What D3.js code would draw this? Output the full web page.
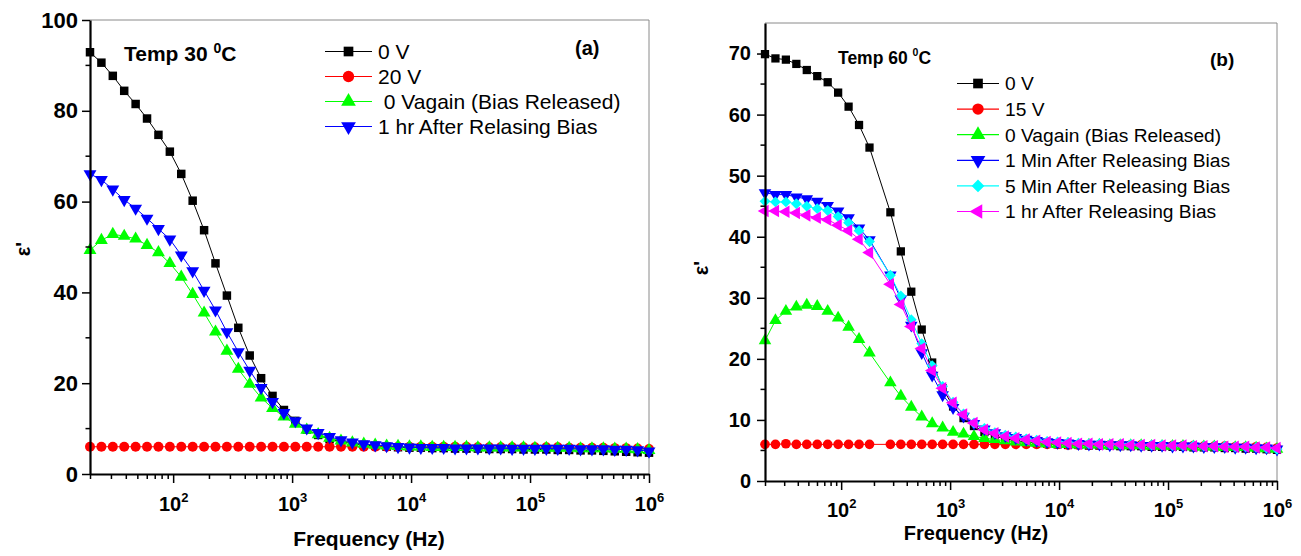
<!DOCTYPE html>
<html>
<head>
<meta charset="utf-8">
<script src="https://cdn.jsdelivr.net/npm/d3@7"></script>
<style>
  body { margin: 0; background: #fff; }
  svg { display: block; font-family: "Liberation Sans", Arial, sans-serif; }
</style>
</head>
<body>
<div id="chart"></div>
<script>
// measuring frequencies (Hz), shared by both panels
const freq = [20, 24.94, 31.10, 38.78, 48.37, 60.32, 75.22, 93.81, 117.0, 145.9,
  182.0, 226.9, 283.0, 352.9, 440.1, 548.9, 684.5, 853.6, 1064.6, 1327.6,
  1655.7, 2064.8, 2575, 3211, 4005, 4994, 6228, 7767, 9686, 12080,
  15065, 18787, 23429, 29218, 36437, 45441, 56668, 70670, 88132, 109907,
  137063, 170928, 213161, 265831, 331513, 413424, 515576, 642966, 801838, 1000000];

// panel (a) : 30 C
const a_0V = [92.9, 90.6, 87.7, 84.4, 81.5, 78.3, 74.7, 71.0, 66.1, 60.2,
  53.7, 46.4, 39.3, 32.2, 26.1, 21.1, 17.2, 14.1, 11.7, 9.8,
  8.6, 7.7, 7.1, 6.7, 6.4, 6.2, 6.0, 5.9, 5.8, 5.8,
  5.7, 5.7, 5.6, 5.6, 5.6, 5.5, 5.5, 5.5, 5.4, 5.4,
  5.4, 5.3, 5.3, 5.2, 5.2, 5.1, 5.0, 4.9, 4.8, 4.7];
const a_20V = [6.0, 6.0, 6.0, 6.0, 6.0, 6.0, 6.0, 6.0, 6.0, 6.0,
  6.0, 6.0, 6.0, 6.0, 6.0, 6.0, 6.0, 6.0, 6.0, 6.0,
  6.0, 6.0, 6.0, 6.0, 6.0, 6.0, 6.0, 6.0, 6.0, 6.0,
  6.0, 6.0, 6.0, 6.0, 5.9, 5.9, 5.9, 5.9, 5.9, 5.9,
  5.9, 5.9, 5.8, 5.8, 5.8, 5.8, 5.7, 5.7, 5.6, 5.5];
const a_0Vagain = [49.3, 51.5, 52.8, 52.4, 51.8, 50.4, 48.8, 46.4, 43.4, 39.6,
  35.5, 31.3, 27.1, 23.1, 19.8, 16.8, 14.5, 12.6, 11.0, 9.7,
  8.7, 7.9, 7.3, 6.9, 6.6, 6.4, 6.2, 6.1, 6.0, 6.0,
  5.9, 5.9, 5.9, 5.9, 5.8, 5.8, 5.8, 5.8, 5.8, 5.7,
  5.7, 5.7, 5.7, 5.6, 5.6, 5.6, 5.5, 5.5, 5.4, 5.2];
const a_1hr = [66.1, 64.8, 62.7, 60.4, 58.5, 56.3, 54.0, 51.7, 48.2, 44.7,
  40.4, 36.1, 31.3, 26.9, 22.8, 19.0, 15.9, 13.5, 11.7, 10.1,
  9.1, 8.2, 7.5, 7.0, 6.6, 6.4, 6.2, 6.0, 5.9, 5.8,
  5.8, 5.8, 5.7, 5.7, 5.7, 5.7, 5.7, 5.6, 5.6, 5.6,
  5.6, 5.6, 5.6, 5.5, 5.5, 5.5, 5.4, 5.4, 5.3, 5.0];

// panel (b) : 60 C  (no reading at the 12th frequency)
const b_0V = [69.9, 69.2, 69.0, 68.3, 67.3, 66.3, 65.3, 63.6, 61.3, 58.3,
  54.6, null, 44.0, 37.6, 31.0, 24.8, 19.4, 15.2, 12.2, 10.3,
  9.0, 8.0, 7.3, 6.9, 6.6, 6.4, 6.2, 6.1, 6.0, 5.9,
  5.9, 5.8, 5.8, 5.8, 5.7, 5.7, 5.7, 5.6, 5.6, 5.6,
  5.6, 5.5, 5.5, 5.5, 5.4, 5.4, 5.3, 5.3, 5.2, 5.1];
const b_15V = [6.0, 6.0, 6.1, 6.0, 6.0, 6.0, 6.0, 6.0, 6.0, 6.0,
  6.0, null, 6.0, 6.0, 6.0, 6.0, 6.0, 6.0, 6.0, 6.0,
  6.0, 6.0, 6.0, 6.0, 6.0, 6.0, 6.0, 6.0, 6.0, 5.9,
  5.9, 5.9, 5.9, 5.9, 5.9, 5.9, 5.9, 5.8, 5.8, 5.8,
  5.8, 5.8, 5.7, 5.7, 5.7, 5.6, 5.6, 5.6, 5.5, 5.4];
const b_0Vagain = [23.0, 26.3, 27.8, 28.5, 28.8, 28.6, 27.8, 26.7, 25.2, 23.2,
  21.0, null, 16.1, 13.9, 12.1, 10.5, 9.4, 8.7, 8.0, 7.7,
  7.3, 7.0, 6.8, 6.6, 6.4, 6.3, 6.2, 6.1, 6.0, 6.0,
  5.9, 5.9, 5.9, 5.8, 5.8, 5.8, 5.8, 5.7, 5.7, 5.7,
  5.7, 5.6, 5.6, 5.6, 5.5, 5.5, 5.5, 5.4, 5.3, 5.2];
const b_1min = [47.2, 46.9, 46.9, 46.5, 46.2, 45.8, 45.1, 44.2, 43.1, 41.4,
  39.5, null, 33.7, 29.8, 25.5, 21.0, 17.3, 14.1, 12.0, 10.6,
  9.4, 8.5, 7.9, 7.4, 7.1, 6.8, 6.6, 6.4, 6.3, 6.2,
  6.1, 6.0, 6.0, 5.9, 5.9, 5.9, 5.8, 5.8, 5.8, 5.7,
  5.7, 5.7, 5.6, 5.6, 5.6, 5.5, 5.5, 5.4, 5.4, 5.2];
const b_5min = [45.8, 45.7, 45.7, 45.4, 45.0, 44.6, 44.3, 43.3, 42.3, 41.0,
  39.2, null, 33.7, 30.3, 26.4, 22.5, 18.9, 15.5, 12.9, 11.0,
  9.5, 8.6, 7.9, 7.5, 7.2, 6.9, 6.7, 6.5, 6.4, 6.3,
  6.2, 6.1, 6.1, 6.0, 6.0, 6.0, 5.9, 5.9, 5.9, 5.8,
  5.8, 5.8, 5.7, 5.7, 5.7, 5.6, 5.6, 5.5, 5.4, 5.2];
const b_1hr = [44.2, 44.2, 44.1, 43.9, 43.5, 43.1, 42.8, 41.9, 41.0, 39.6,
  37.4, null, 32.2, 28.9, 25.3, 21.7, 18.1, 15.2, 12.8, 10.9,
  9.5, 8.4, 7.8, 7.3, 7.0, 6.8, 6.6, 6.4, 6.3, 6.2,
  6.1, 6.1, 6.0, 6.0, 6.0, 5.9, 5.9, 5.9, 5.8, 5.8,
  5.8, 5.7, 5.7, 5.7, 5.6, 5.6, 5.6, 5.5, 5.5, 5.4];

const a_labels = ["0 V", "20 V", " 0 Vagain (Bias Released)", "1 hr After Relasing Bias"];
const b_labels = ["0 V", "15 V", "0 Vagain (Bias Released)", "1 Min After Releasing Bias",
  "5 Min After Releasing Bias", "1 hr After Releasing Bias"];

const a_yTicks = [0, 20, 40, 60, 80, 100];
const b_yTicks = [0, 10, 20, 30, 40, 50, 60, 70];

// marker styles
const markers = {
  square:  {type: d3.symbolSquare, size: 72, rot: 0},
  circle:  {type: d3.symbolCircle, size: 78, rot: 0},
  up:      {type: d3.symbolTriangle, size: 72, rot: 0},
  down:    {type: d3.symbolTriangle, size: 72, rot: 180},
  diamond: {type: d3.symbolSquare, size: 62, rot: 45},
  left:    {type: d3.symbolTriangle, size: 72, rot: -90}
};

const svg = d3.select("#chart").append("svg")
  .attr("width", 1301)
  .attr("height", 556);

function drawPanel(p) {
  const x = d3.scaleLog().domain([20, 1e6]).range([p.left, p.right]);
  const y = d3.scaleLinear().domain([0, p.ymax]).range([p.bottom, p.top]);
  const g = svg.append("g");

  // gray frame (top + right)
  g.append("path")
    .attr("d", `M${p.left},${p.top}H${p.right}V${p.bottom}`)
    .attr("fill", "none")
    .attr("stroke", "#8a8a8a")
    .attr("stroke-width", 1);

  // series
  p.series.forEach(s => {
    const pts = freq.map((f, i) => ({f: f, v: s.values[i]})).filter(d => d.v != null);
    g.append("path")
      .datum(pts)
      .attr("fill", "none")
      .attr("stroke", s.color)
      .attr("stroke-width", 1)
      .attr("d", d3.line().x(d => x(d.f)).y(d => y(d.v)));
    const m = markers[s.marker];
    g.append("g").selectAll("path")
      .data(pts)
      .join("path")
      .attr("d", d3.symbol(m.type, m.size * p.mscale))
      .attr("transform", d => `translate(${x(d.f)},${y(d.v)}) rotate(${m.rot})`)
      .attr("fill", s.color);
  });

  // x axis
  const xt = x.ticks();
  const isMajor = v => Math.abs(Math.log10(v) - Math.round(Math.log10(v))) < 1e-9;
  const xg = g.append("g")
    .attr("transform", `translate(0,${p.bottom})`)
    .call(d3.axisBottom(x).tickValues(xt).tickSize(5).tickSizeOuter(0).tickFormat(""));
  xg.select(".domain").attr("stroke-width", 2.2);
  xg.selectAll(".tick line").attr("stroke-width", 1.5);
  xg.selectAll(".tick").filter(d => isMajor(d)).select("line").attr("y2", 9);
  const lab = xg.selectAll(".tick").filter(d => isMajor(d) && d >= 100)
    .append("text")
    .attr("y", p.xLabY)
    .attr("fill", "#000")
    .attr("text-anchor", "middle")
    .attr("font-weight", "bold")
    .attr("font-size", p.xFont + "px");
  lab.append("tspan").text("10");
  lab.append("tspan").attr("dy", -9).attr("font-size", (p.xFont - 7) + "px")
    .text(d => Math.round(Math.log10(d)));

  // y axis
  const yg = g.append("g")
    .attr("transform", `translate(${p.left},0)`)
    .call(d3.axisLeft(y).tickValues(p.yTicks).tickSize(8).tickSizeOuter(0).tickPadding(p.yPad));
  yg.select(".domain").attr("stroke-width", 2.2);
  yg.selectAll(".tick line").attr("stroke-width", 1.5);
  yg.selectAll(".tick text")
    .attr("font-family", "'Liberation Sans', Arial, sans-serif")
    .attr("font-weight", "bold")
    .attr("font-size", p.yFont + "px")
    .attr("fill", "#000");
  const minor = p.yTicks.slice(0, -1).map((v, i) => (v + p.yTicks[i + 1]) / 2);
  g.append("g")
    .attr("transform", `translate(${p.left},0)`)
    .selectAll("line")
    .data(minor)
    .join("line")
    .attr("x1", -4.5).attr("x2", 0)
    .attr("y1", d => y(d)).attr("y2", d => y(d))
    .attr("stroke", "#000")
    .attr("stroke-width", 1.5);

  // axis titles
  g.append("text")
    .attr("x", p.xTitle[0]).attr("y", p.xTitle[1])
    .attr("text-anchor", "middle")
    .attr("font-weight", "bold")
    .attr("font-size", p.xTitleFont + "px")
    .text("Frequency (Hz)");
  g.append("text")
    .attr("transform", `translate(${p.yTitle[0]},${p.yTitle[1]}) rotate(-90)`)
    .attr("text-anchor", "middle")
    .attr("font-weight", "bold")
    .attr("font-size", "20px")
    .text("ε'");

  // temperature label
  const tt = g.append("text")
    .attr("x", p.temp.x).attr("y", p.temp.y)
    .attr("font-weight", "bold")
    .attr("font-size", p.temp.font + "px");
  tt.append("tspan").text(p.temp.text + " ");
  tt.append("tspan").attr("dy", -8).attr("font-size", (p.temp.font - 7) + "px").text("0");
  tt.append("tspan").attr("dy", 8).text("C");

  // panel tag
  g.append("text")
    .attr("x", p.tag.x).attr("y", p.tag.y)
    .attr("font-weight", "bold")
    .attr("font-size", p.tag.font + "px")
    .text(p.tag.text);

  // legend
  const lg = g.append("g");
  p.series.forEach((s, i) => {
    const ly = p.legend.y + i * p.legend.step;
    lg.append("line")
      .attr("x1", p.legend.x1).attr("x2", p.legend.x2)
      .attr("y1", ly).attr("y2", ly)
      .attr("stroke", s.color).attr("stroke-width", 1.2);
    const m = markers[s.marker];
    lg.append("path")
      .attr("d", d3.symbol(m.type, m.size * 1.3))
      .attr("transform", `translate(${(p.legend.x1 + p.legend.x2) / 2},${ly}) rotate(${m.rot})`)
      .attr("fill", s.color);
    lg.append("text")
      .attr("x", p.legend.tx).attr("y", ly + p.legend.font * 0.36)
      .attr("font-size", p.legend.font + "px")
      .style("white-space", "pre")
      .text(p.labels[i]);
  });
}

drawPanel({
  left: 90, right: 649, top: 20, bottom: 474, ymax: 100,
  yTicks: a_yTicks, yFont: 22, yPad: 4, xFont: 20, xLabY: 37, mscale: 1,
  xTitle: [369, 546], xTitleFont: 21, yTitle: [30, 249],
  temp: {x: 124, y: 61, font: 21, text: "Temp 30"},
  tag: {x: 575, y: 55, font: 20, text: "(a)"},
  legend: {x1: 325, x2: 372, tx: 378, y: 51.5, step: 25, font: 21},
  labels: a_labels,
  series: [
    {values: a_0V, color: "#000000", marker: "square"},
    {values: a_20V, color: "#ff0000", marker: "circle"},
    {values: a_0Vagain, color: "#00ff00", marker: "up"},
    {values: a_1hr, color: "#0000ff", marker: "down"}
  ]
});

drawPanel({
  left: 765, right: 1277, top: 23, bottom: 481, ymax: 75,
  yTicks: b_yTicks, yFont: 20, yPad: 6, xFont: 20, xLabY: 36, mscale: 0.95,
  xTitle: [976, 540], xTitleFont: 20, yTitle: [708, 268],
  temp: {x: 838, y: 64, font: 17.5, text: "Temp 60"},
  tag: {x: 1210, y: 66, font: 19, text: "(b)"},
  legend: {x1: 957, x2: 999, tx: 1005, y: 83.5, step: 25.6, font: 19.2},
  labels: b_labels,
  series: [
    {values: b_0V, color: "#000000", marker: "square"},
    {values: b_15V, color: "#ff0000", marker: "circle"},
    {values: b_0Vagain, color: "#00ff00", marker: "up"},
    {values: b_1min, color: "#0000ff", marker: "down"},
    {values: b_5min, color: "#00ffff", marker: "diamond"},
    {values: b_1hr, color: "#ff00ff", marker: "left"}
  ]
});
</script>
</body>
</html>
